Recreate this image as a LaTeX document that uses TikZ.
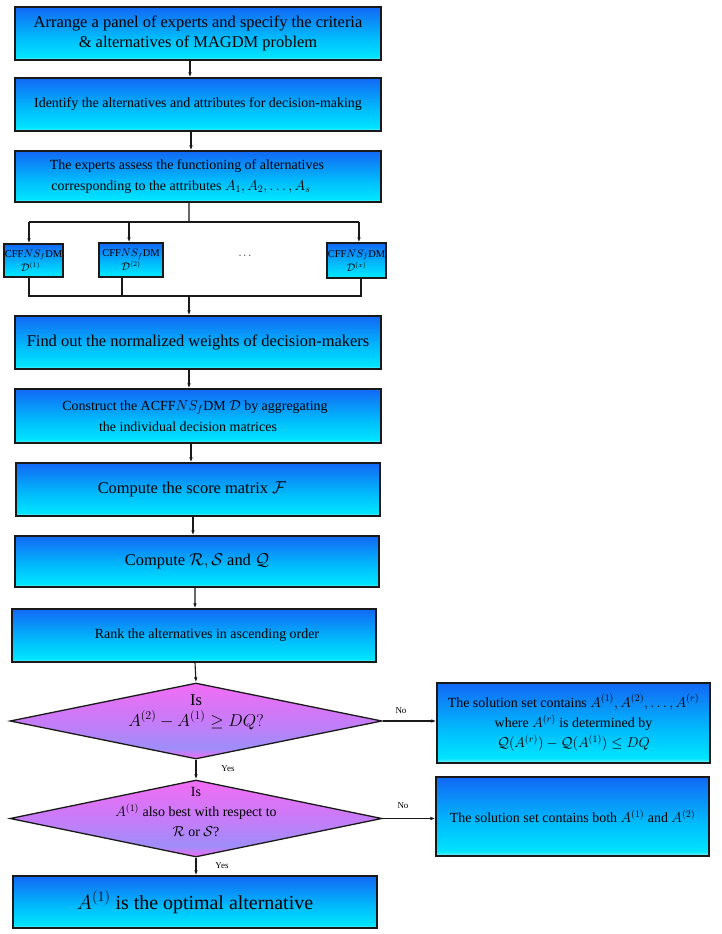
\documentclass[tikz,border=0pt]{standalone}
\usepackage{fontspec}
\setmainfont{Liberation Serif}
\usetikzlibrary{arrows.meta,shapes.geometric,calc}
\definecolor{bxb}{RGB}{18,104,245}
\definecolor{bxm}{RGB}{0,190,252}
\definecolor{bxc}{RGB}{0,228,255}
\definecolor{bxl}{RGB}{130,242,255}
\definecolor{dpk}{RGB}{242,108,245}
\definecolor{dlv}{RGB}{158,142,250}
\definecolor{dlv2}{RGB}{195,125,248}
\definecolor{lncol}{RGB}{25,25,25}
\pgfdeclareverticalshading{boxshade}{100bp}{color(0bp)=(bxl); color(25bp)=(bxl); color(28bp)=(bxc); color(45bp)=(bxm); color(75bp)=(bxb); color(100bp)=(bxb)}
\pgfdeclareverticalshading{diashade}{100bp}{color(0bp)=(dpk); color(25bp)=(dpk); color(32bp)=(dlv); color(48bp)=(dlv2); color(75bp)=(dpk); color(100bp)=(dpk)}
\tikzset{
  box/.style={draw=lncol, line width=1.3bp, shade, shading=boxshade, align=center, inner sep=0pt, text=black},
  dia/.style={diamond, draw=lncol, line width=1.3bp, shade, shading=diashade, inner sep=0pt},
  big/.style={font=\fontsize{16.5}{19.5}\selectfont},
  mid/.style={font=\fontsize{14}{20.5}\selectfont},
  sml/.style={font=\fontsize{10.5}{14}\selectfont},
  lab/.style={font=\fontsize{9}{10}\selectfont, inner sep=0pt},
  arr/.style={-{Latex[length=5bp,width=3.6bp]}, line width=1.1bp, draw=lncol},
  ln/.style={line width=1.1bp, draw=lncol}
}
\begin{document}
\begin{tikzpicture}[x=1bp,y=-1bp]
\useasboundingbox (0,0) rectangle (722,934);
% main boxes
\node[box, big, minimum width=366bp, minimum height=53bp] (b1) at (198,33.5) {Arrange a panel of experts and specify the criteria\\ \& alternatives of MAGDM problem};
\node[box, mid, minimum width=366bp, minimum height=53bp] (b2) at (198,104.5) {Identify the alternatives and attributes for decision-making};
\node[box, font=\fontsize{14}{21.5}\selectfont, minimum width=366bp, minimum height=51bp] (b3) at (198,176.5) {The experts assess the functioning of alternatives\hspace*{22bp}\\ corresponding to the attributes $A_1, A_2, \ldots, A_s$\hspace*{34bp}};
% small boxes
\node[box, sml, minimum width=59bp, minimum height=33bp] (s1) at (33.5,260.5) {CFF$NS_f$DM\\ $\mathcal{D}^{(1)}$\hspace*{6bp}};
\node[box, sml, minimum width=64bp, minimum height=34bp] (s2) at (131,260) {CFF$NS_f$DM\\ $\mathcal{D}^{(2)}$};
\node[box, sml, minimum width=59bp, minimum height=35bp] (s3) at (356.5,260.5) {CFF$NS_f$DM\\ $\mathcal{D}^{(x)}$};
\node[sml] (dots) at (245,256) {$\cdots$};
\node[box, big, minimum width=366bp, minimum height=53bp] (b4) at (198,342.5) {Find out the normalized weights of decision-makers};
\node[box, mid, minimum width=366bp, minimum height=54bp] (b5) at (198,416) {Construct the ACFF$NS_f$DM $\mathcal{D}$ by aggregating\hspace*{6bp}\\ the individual decision matrices\hspace*{20bp}};
\node[box, big, minimum width=364bp, minimum height=53bp] (b6) at (198,489.5) {Compute the score matrix $\mathcal{F}$\hspace*{12bp}};
\node[box, big, minimum width=364bp, minimum height=51bp] (b7) at (197,561.5) {Compute $\mathcal{R}, \mathcal{S}$ and $\mathcal{Q}$};
\node[box, mid, minimum width=364bp, minimum height=53bp] (b8) at (194,635.5) {\hspace*{26bp}\raisebox{4bp}{Rank the alternatives in ascending order}};
% decisions
\node[dia, minimum width=372bp, minimum height=76bp] (d1) at (196,721) {};
\node[big, align=center, font=\fontsize{16.5}{21}\selectfont] (d1t) at (196,712) {Is\\ $A^{(2)} - A^{(1)} \geq DQ?$};
\node[dia, minimum width=372bp, minimum height=77bp] (d2) at (196,818.5) {};
\node[mid, align=center] (d2t) at (196,812) {Is\\ $A^{(1)}$ also best with respect to\\ $\mathcal{R}$ or $\mathcal{S}$?};
\node[box, font=\fontsize{20}{24}\selectfont, minimum width=364bp, minimum height=52bp] (b9) at (195,902) {$A^{(1)}$ is the optimal alternative};
% right boxes
\node[box, mid, minimum width=273bp, minimum height=80bp] (r1) at (573.5,723) {The solution set contains $A^{(1)}, A^{(2)}, \ldots, A^{(r)}$\\ where $A^{(r)}$ is determined by\\ $\mathcal{Q}(A^{(r)}) - \mathcal{Q}(A^{(1)}) \leq DQ$};
\node[box, mid, minimum width=273bp, minimum height=79bp] (r2) at (572.5,816.5) {The solution set contains both $A^{(1)}$ and $A^{(2)}$};
% connectors
\draw[arr] ([xshift=-8bp]b1.south) -- ([xshift=-8bp]b2.north);
\draw[arr] ([xshift=-7bp]b2.south) -- ([xshift=-7bp]b3.north);
\coordinate (fo) at (189,222);
\coordinate (hl) at (29,222);
\coordinate (hm) at (129,222);
\coordinate (hr) at (359,222);
\draw[ln] ([xshift=-9bp]b3.south) -- (fo);
\draw[ln] (hl) -- (hr);
\draw[arr] (hl) -- (hl |- s1.north);
\draw[arr] (hm) -- (hm |- s2.north);
\draw[arr] (hr) -- (hr |- s3.north);
\coordinate (gl) at (29,296);
\coordinate (gm) at (122,296);
\coordinate (gr) at (361,296);
\coordinate (gc) at (189,296);
\draw[ln] (gl |- s1.south) -- (gl) -- (gr) -- (gr |- s3.south);
\draw[ln] (gm |- s2.south) -- (gm);
\draw[arr] (gc) -- (gc |- b4.north);
\draw[arr] ([xshift=-9bp]b4.south) -- ([xshift=-9bp]b5.north);
\draw[arr] ([xshift=-7bp]b5.south) -- ([xshift=-7bp]b6.north);
\draw[arr] ([xshift=-5bp]b6.south) -- ([xshift=-4bp]b7.north);
\draw[arr] ([xshift=-2bp]b7.south) -- ([xshift=1bp]b8.north);
\draw[arr] ([xshift=1bp]b8.south) -- (d1.north);
\draw[arr] (d1.south) -- (d2.north);
\draw[arr] (d2.south) -- (d2.south |- b9.north);
\draw[arr] (d1.east) -- (d1.east -| r1.west);
\draw[arr] (d2.east) -- (d2.east -| r2.west);
% labels
\node[lab] (y1) at (228,769) {Yes};
\node[lab] (y2) at (222,866) {Yes};
\node[lab] (n1) at (401,711) {No};
\node[lab] (n2) at (403,806) {No};
\end{tikzpicture}
\end{document}
